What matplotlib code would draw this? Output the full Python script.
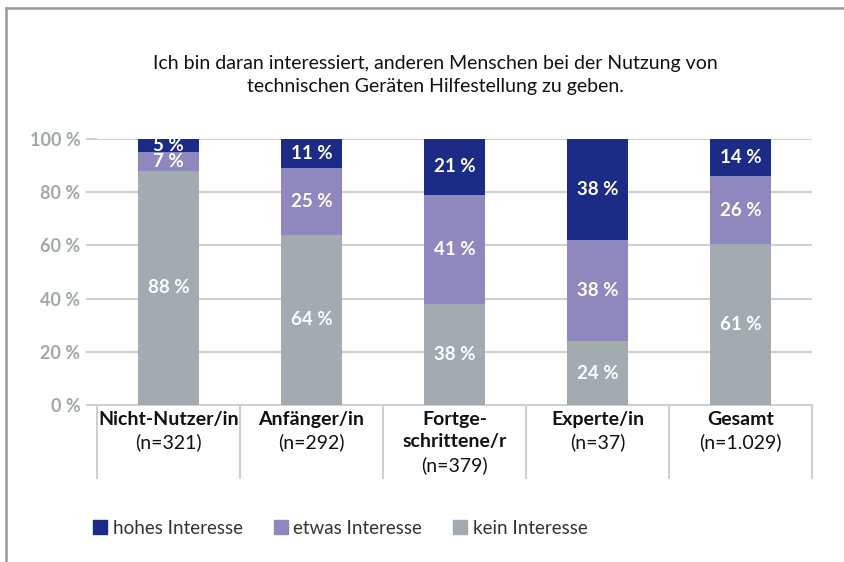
import numpy as np
import matplotlib
matplotlib.use("Agg")
import matplotlib.pyplot as plt
import matplotlib.transforms as mtransforms
from matplotlib.lines import Line2D
from matplotlib.patches import Patch

plt.rcParams['font.family'] = ['Lato', 'DejaVu Sans']

# data
groups = ['Nicht-Nutzer/in', 'Anfänger/in', 'Fortge-\nschrittene/r', 'Experte/in', 'Gesamt']
counts = ['(n=321)', '(n=292)', '(n=379)', '(n=37)', '(n=1.029)']
kein = [88, 64, 38, 24, 61]
etwas = [7, 25, 41, 38, 26]
hohes = [5, 11, 21, 38, 14]
series_names = ['hohes Interesse', 'etwas Interesse', 'kein Interesse']
yticks = [0, 20, 40, 60, 80, 100]

c_hoch = '#1b2b86'
c_etwas = '#8f88bf'
c_kein = '#a3abb0'
grid_c = '#ccd2d4'

W, H = 845, 562
fig = plt.figure(figsize=(W / 100, H / 100), dpi=100)
ax = fig.add_axes([97 / W, 1 - 405 / H, (812 - 97) / W, (405 - 139) / H])

x = np.arange(len(groups))
kein_a = np.array(kein, float)
etwas_a = np.array(etwas, float)
hohes_a = np.array(hohes, float)
tot = kein_a + etwas_a + hohes_a
k = kein_a / tot * 100
e = etwas_a / tot * 100
h = hohes_a / tot * 100

bw = 0.42
ax.bar(x, k, bw, color=c_kein, zorder=3)
ax.bar(x, e, bw, bottom=k, color=c_etwas, zorder=3)
ax.bar(x, h, bw, bottom=k + e, color=c_hoch, zorder=3)

for i in range(len(groups)):
    for val, bot, hgt in [(kein[i], 0, k[i]), (etwas[i], k[i], e[i]), (hohes[i], k[i] + e[i], h[i])]:
        ax.text(x[i], bot + hgt / 2, f'{val} %', ha='center', va='center',
                color='white', fontsize=13.5, fontweight='bold', zorder=4)

ax.set_xlim(-0.5, len(groups) - 0.5)
ax.set_ylim(0, 100)
ax.set_yticks(yticks)
ax.set_yticklabels([f'{t} %' for t in yticks], color='#a0a8ac', fontsize=13, fontweight='bold')
ax.tick_params(axis='y', length=8, color=grid_c, width=1.5, pad=4)
ax.set_xticks([])
for t in yticks[1:]:
    ax.axhline(t, color=grid_c, lw=1.5, zorder=1)
for s in ['top', 'right', 'left']:
    ax.spines[s].set_visible(False)
ax.spines['bottom'].set_color(grid_c)
ax.spines['bottom'].set_linewidth(1.5)

# category table below
trans = mtransforms.blended_transform_factory(ax.transData, ax.transAxes)
for b in np.arange(-0.5, len(groups), 1.0):
    ax.add_line(Line2D([b, b], [0, -0.275], transform=trans, color=grid_c, lw=1.5, clip_on=False))
for i, (g, n) in enumerate(zip(groups, counts)):
    ax.text(x[i], -0.022, g, transform=trans, ha='center', va='top', fontsize=14,
            fontweight='bold', color='#111111', linespacing=1.35)
    nlines = g.count('\n') + 1
    ax.text(x[i], -0.022 - 0.086 * nlines, n, transform=trans, ha='center', va='top',
            fontsize=14, color='#111111')

fig.text(435 / W, 1 - 75 / H, 'Ich bin daran interessiert, anderen Menschen bei der Nutzung von\n'
         'technischen Geräten Hilfestellung zu geben.', ha='center', va='center',
         fontsize=14, color='#111111', linespacing=1.45)

handles = [Patch(color=c_hoch), Patch(color=c_etwas), Patch(color=c_kein)]
fig.legend(handles, series_names, loc='center left', bbox_to_anchor=(76 / W, 1 - 528 / H),
           ncol=3, frameon=False, fontsize=13.5, handlelength=0.75, handleheight=0.75,
           handletextpad=0.3, columnspacing=1.65, labelcolor='#333333')

# frame lines
fig.add_artist(Line2D([6 / W, 1], [1 - 8 / H, 1 - 8 / H], transform=fig.transFigure, color='#999999', lw=1.8))
fig.add_artist(Line2D([6 / W, 6 / W], [0, 1 - 8 / H], transform=fig.transFigure, color='#999999', lw=1.8))

fig.savefig('out.png', dpi=100)
